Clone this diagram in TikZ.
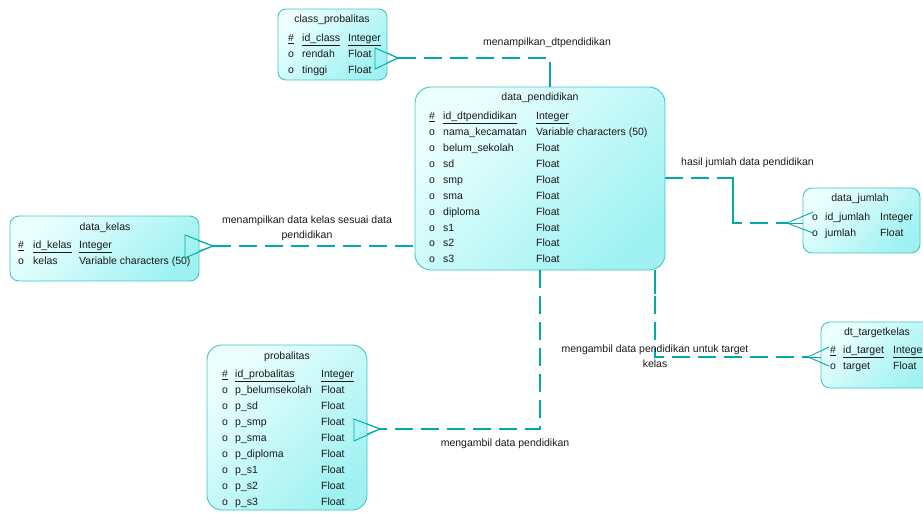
\documentclass[tikz,border=0pt]{standalone}
\usepackage{fontspec}
\setmainfont{Liberation Sans}
\definecolor{bordc}{RGB}{70,195,195}
\definecolor{linec}{RGB}{0,170,170}
\definecolor{fillA}{RGB}{236,255,255}
\definecolor{fillB}{RGB}{160,242,242}
\definecolor{txt}{RGB}{25,25,25}
\newcommand{\myul}[1]{\underline{#1}}
\begin{document}
\begin{tikzpicture}[x=1pt,y=-1pt,
  ent/.style={draw=bordc, line width=0.9pt, top color=fillA, bottom color=fillB, shading angle=45, anchor=north west, inner sep=0pt, outer sep=0pt},
  lbl/.style={inner sep=0pt, anchor=west, text=txt, font=\fontsize{10.5}{12}\selectfont, text height=7.5pt, text depth=2pt},
  ttl/.style={lbl, anchor=center},
  rlabel/.style={inner sep=0pt, anchor=center, align=center, text=txt, font=\fontsize{10.5}{15}\selectfont},
  rel/.style={draw=linec, line width=1.3pt, dash pattern=on 18pt off 8pt},
  relsolid/.style={draw=linec, line width=1.3pt},
  foot/.style={draw=linec, line width=0.9pt}
]
\useasboundingbox (0,0) rectangle (923,512);

% ---------- entities ----------
\node[ent, rounded corners=8pt, minimum width=109pt, minimum height=71pt] (cp) at (278,9) {};
\node[ent, rounded corners=16pt, minimum width=250pt, minimum height=183pt] (dp) at (415,87) {};
\node[ent, rounded corners=9pt, minimum width=189pt, minimum height=65pt] (dk) at (10,216) {};
\node[ent, rounded corners=9pt, minimum width=117pt, minimum height=65pt] (dj) at (803,188) {};
\node[ent, rounded corners=9pt, minimum width=112pt, minimum height=66pt] (dt) at (821,322) {};
\node[ent, rounded corners=15pt, minimum width=160pt, minimum height=165pt] (pb) at (207,345) {};

% class_probalitas
\node[ttl] (cpT) at (332,20) {class\_probalitas};
\node[lbl] (cpK0) at (288,39) {\myul{\#}};
\node[lbl] (cpK1) at (302,39) {\myul{id\_class}};
\node[lbl] (cpK2) at (348,39) {\myul{Integer}};
\foreach \i/\n/\t in {1/rendah/Float, 2/tinggi/Float}{
  \node[lbl] (cpo\i) at (288,39+16*\i) {o};
  \node[lbl] (cpn\i) at (302,39+16*\i) {\n};
  \node[lbl] (cpt\i) at (348,39+16*\i) {\t};
}

% data_pendidikan
\node[ttl] (dpT) at (540,98) {data\_pendidikan};
\node[lbl] (dpK0) at (429,117) {\myul{\#}};
\node[lbl] (dpK1) at (443,117) {\myul{id\_dtpendidikan}};
\node[lbl] (dpK2) at (536,117) {\myul{Integer}};
\foreach \i/\n/\t in {1/nama\_kecamatan/Variable characters (50), 2/belum\_sekolah/Float, 3/sd/Float, 4/smp/Float, 5/sma/Float, 6/diploma/Float, 7/s1/Float, 8/s2/Float, 9/s3/Float}{
  \node[lbl] (dpo\i) at (429,117+15.9*\i) {o};
  \node[lbl] (dpn\i) at (443,117+15.9*\i) {\n};
  \node[lbl] (dpt\i) at (536,117+15.9*\i) {\t};
}

% data_kelas
\node[ttl] (dkT) at (105,228) {data\_kelas};
\node[lbl] (dkK0) at (18,246) {\myul{\#}};
\node[lbl] (dkK1) at (33,246) {\myul{id\_kelas}};
\node[lbl] (dkK2) at (79,246) {\myul{Integer}};
\node[lbl] (dko1) at (18,262) {o};
\node[lbl] (dkn1) at (33,262) {kelas};
\node[lbl] (dkt1) at (79,262) {Variable characters (50)};

% data_jumlah
\node[ttl] (djT) at (860,199) {data\_jumlah};
\foreach \i/\n/\t in {0/id\_jumlah/Integer, 1/jumlah/Float}{
  \node[lbl] (djo\i) at (812,218+15.5*\i) {o};
  \node[lbl] (djn\i) at (825,218+15.5*\i) {\n};
  \node[lbl] (djt\i) at (880,218+15.5*\i) {\t};
}

% dt_targetkelas
\node[ttl] (dtT) at (877,333) {dt\_targetkelas};
\node[lbl] (dtK0) at (830,351) {\myul{\#}};
\node[lbl] (dtK1) at (843,351) {\myul{id\_target}};
\node[lbl] (dtK2) at (893,351) {\myul{Integer}};
\node[lbl] (dto1) at (830,367) {o};
\node[lbl] (dtn1) at (843,367) {target};
\node[lbl] (dtt1) at (893,367) {Float};

% probalitas
\node[ttl] (pbT) at (287,357) {probalitas};
\node[lbl] (pbK0) at (222,375) {\myul{\#}};
\node[lbl] (pbK1) at (235,375) {\myul{id\_probalitas}};
\node[lbl] (pbK2) at (321,375) {\myul{Integer}};
\foreach \i/\n in {1/p\_belumsekolah, 2/p\_sd, 3/p\_smp, 4/p\_sma, 5/p\_diploma, 6/p\_s1, 7/p\_s2, 8/p\_s3}{
  \node[lbl] (pbo\i) at (222,375+16*\i) {o};
  \node[lbl] (pbn\i) at (235,375+16*\i) {\n};
  \node[lbl] (pbt\i) at (321,375+16*\i) {Float};
}

% ---------- connector end points ----------
\coordinate (cpTip) at (398,58);
\coordinate (dkTip) at (213,246);
\coordinate (djTip) at (787,223);
\coordinate (djBend) at (733,178);
\coordinate (dtTip) at (808,357);
\coordinate (pbTip) at (380,429);

% ---------- connectors ----------
\draw[rel] (cpTip) -| ([xshift=10pt]dp.north);
\draw[relsolid] ([xshift=10pt]dp.north) -- ++(0,-22);

\draw[rel] (dkTip) -- (dkTip -| dp.west);

\draw[rel] (djBend -| dp.east) -- (djBend) |- (djTip);
\draw[relsolid] (djBend) -- (djBend |- djTip);

\draw[rel] ([xshift=115pt]dp.south) |- (dtTip);
\draw[relsolid] ([xshift=115pt]dp.south) -- ++(0,24);

\draw[rel] (dp.south) |- (pbTip);

% ---------- ends ----------
\draw[foot] (375,48) -- (cpTip) -- (375,69) -- cycle;
\draw[foot] (387,53) -- (cpTip) -- (387,63);
\draw[foot] (185,235) -- (dkTip) -- (185,258) -- cycle;
\draw[foot] (199,241) -- (dkTip) -- (199,251);
\draw[foot] (813,212) -- (djTip) -- (813,233);
\draw[foot] (djTip) -- (dj.west |- djTip);
\draw[foot] (829,347) -- (dtTip) -- (829,366);
\draw[foot] (dtTip) -- (dt.west |- dtTip);
\draw[foot] (354,419) -- (pbTip) -- (354,441) -- cycle;
\draw[foot] (367,424) -- (pbTip) -- (367,434);

% ---------- relation labels ----------
\node[rlabel] (r1) at (547,43) {menampilkan\_dtpendidikan};
\node[rlabel] (r2) at (307,228.5) {menampilkan data kelas sesuai data\\pendidikan};
\node[rlabel, anchor=west] (r3) at (681,163) {hasil jumlah data pendidikan};
\node[rlabel] (r4) at (655,356) {mengambil data pendidikan untuk target\\kelas};
\node[rlabel] (r5) at (505,444) {mengambil data pendidikan};
\end{tikzpicture}
\end{document}
